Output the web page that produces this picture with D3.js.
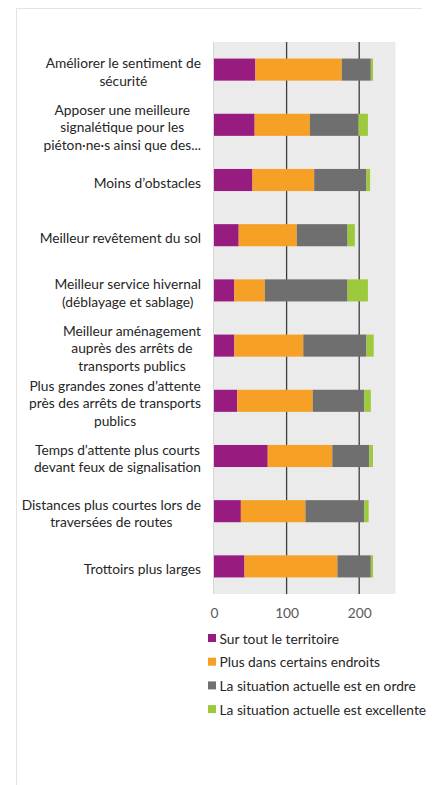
<!DOCTYPE html>
<html>
<head>
<meta charset="utf-8">
<script src="https://cdn.jsdelivr.net/npm/d3@7"></script>
<style>
  body { margin: 0; background: #fff; }
  svg { display: block; font-family: Lato, "Noto Sans", sans-serif; }
</style>
</head>
<body>
<div id="chart"></div>
<script>
// categories, top to bottom (each label already split on lines like the original)
const categories = [
  ["Améliorer le sentiment de", "sécurité"],
  ["Apposer une meilleure", "signalétique pour les", "piéton·ne·s ainsi que des..."],
  ["Moins d\u2019obstacles"],
  ["Meilleur revêtement du sol"],
  ["Meilleur service hivernal", "(déblayage et sablage)"],
  ["Meilleur aménagement", "auprès des arrêts de", "transports publics"],
  ["Plus grandes zones d\u2019attente", "près des arrêts de transports", "publics"],
  ["Temps d\u2019attente plus courts", "devant feux de signalisation"],
  ["Distances plus courtes lors de", "traversées de routes"],
  ["Trottoirs plus larges"]
];

const seriesNames = [
  "Sur tout le territoire",
  "Plus dans certains endroits",
  "La situation actuelle est en ordre",
  "La situation actuelle est excellente"
];

const surTout   = [57, 56, 53, 34, 28, 28, 32, 74, 37, 42];
const certains  = [119, 76, 85, 80, 42, 95, 104, 89, 89, 128];
const enOrdre   = [40, 67, 72, 70, 114, 87, 71, 51, 81, 46];
const excellent = [3, 13, 5, 10, 28, 10, 9, 5, 6, 3];

const tickValues = [0, 100, 200];
const colors = ["#981b80", "#f6a126", "#6f6f6f", "#9dc93c"];

const width = 440, height = 785;
const plot = { left: 214, right: 395.5, top: 42, bottom: 594 };
const fontSize = 13.75;

const svg = d3.select("#chart").append("svg")
  .attr("width", width)
  .attr("height", height);

// faint frame of the chart area
svg.append("line").attr("x1", 16.5).attr("x2", 422).attr("y1", 8.5).attr("y2", 8.5)
  .attr("stroke", "#e3e3e3");
svg.append("line").attr("x1", 16.5).attr("x2", 16.5).attr("y1", 8.5).attr("y2", height)
  .attr("stroke", "#e3e3e3");

const x = d3.scaleLinear().domain([0, 250]).range([plot.left, plot.right]);
const y = d3.scaleBand()
  .domain(d3.range(categories.length))
  .range([plot.top, plot.bottom])
  .paddingInner(0.6)
  .paddingOuter(0.3);

svg.append("rect")
  .attr("x", plot.left - 1).attr("y", plot.top)
  .attr("width", plot.right - plot.left + 1).attr("height", plot.bottom - plot.top)
  .attr("fill", "#ebebeb");

svg.append("line")
  .attr("x1", plot.left - 0.5).attr("x2", plot.left - 0.5)
  .attr("y1", plot.top).attr("y2", plot.bottom)
  .attr("stroke", "#d6d6d6");

// grid lines
svg.append("g").selectAll("line")
  .data(tickValues.filter(d => d > 0))
  .join("line")
  .attr("x1", d => x(d)).attr("x2", d => x(d))
  .attr("y1", plot.top).attr("y2", plot.bottom)
  .attr("stroke", "#3d3d3d")
  .attr("stroke-width", 1.3);

// stacked bars
const rows = categories.map((c, i) => ({
  i: i,
  0: surTout[i], 1: certains[i], 2: enOrdre[i], 3: excellent[i]
}));
const stack = d3.stack().keys([0, 1, 2, 3])(rows);

svg.append("g").selectAll("g")
  .data(stack)
  .join("g")
  .attr("fill", (d, k) => colors[k])
  .selectAll("rect")
  .data(d => d)
  .join("rect")
  .attr("x", d => x(d[0]))
  .attr("width", d => x(d[1]) - x(d[0]))
  .attr("y", d => y(d.data.i))
  .attr("height", y.bandwidth());

// x axis labels
const xAxis = d3.axisBottom(x).tickValues(tickValues).tickSize(0).tickPadding(14);
const gx = svg.append("g")
  .attr("transform", `translate(0,${plot.bottom})`)
  .call(xAxis);
gx.select(".domain").remove();
gx.selectAll("text")
  .attr("font-family", "Lato, 'Noto Sans', sans-serif")
  .attr("font-size", fontSize)
  .attr("fill", "#595959");

// category labels: lines centred on each other, block right-aligned
const labelRight = 201;
const lineH = 17.5;
const labels = svg.append("g")
  .attr("font-size", fontSize)
  .attr("fill", "#262626");

categories.forEach((lines, i) => {
  const cy = y(i) + y.bandwidth() / 2 + 1.5;
  const t = labels.append("text")
    .attr("text-anchor", "middle")
    .attr("dominant-baseline", "central");
  lines.forEach((ln, j) => {
    t.append("tspan")
      .attr("y", cy + (j - (lines.length - 1) / 2) * lineH)
      .text(ln);
  });
  const w = d3.max(t.selectAll("tspan").nodes(), n => n.getComputedTextLength());
  t.selectAll("tspan").attr("x", labelRight - w / 2);
});

// legend
const legend = svg.append("g")
  .attr("transform", "translate(208,638)");
const item = legend.selectAll("g")
  .data(seriesNames)
  .join("g")
  .attr("transform", (d, k) => `translate(0,${k * 23.7})`);
item.append("rect")
  .attr("x", 0).attr("y", -4)
  .attr("width", 8).attr("height", 8)
  .attr("fill", (d, k) => colors[k]);
item.append("text")
  .attr("x", 11.5)
  .attr("dominant-baseline", "central")
  .attr("font-size", fontSize)
  .attr("fill", "#262626")
  .text(d => d);
</script>
</body>
</html>
